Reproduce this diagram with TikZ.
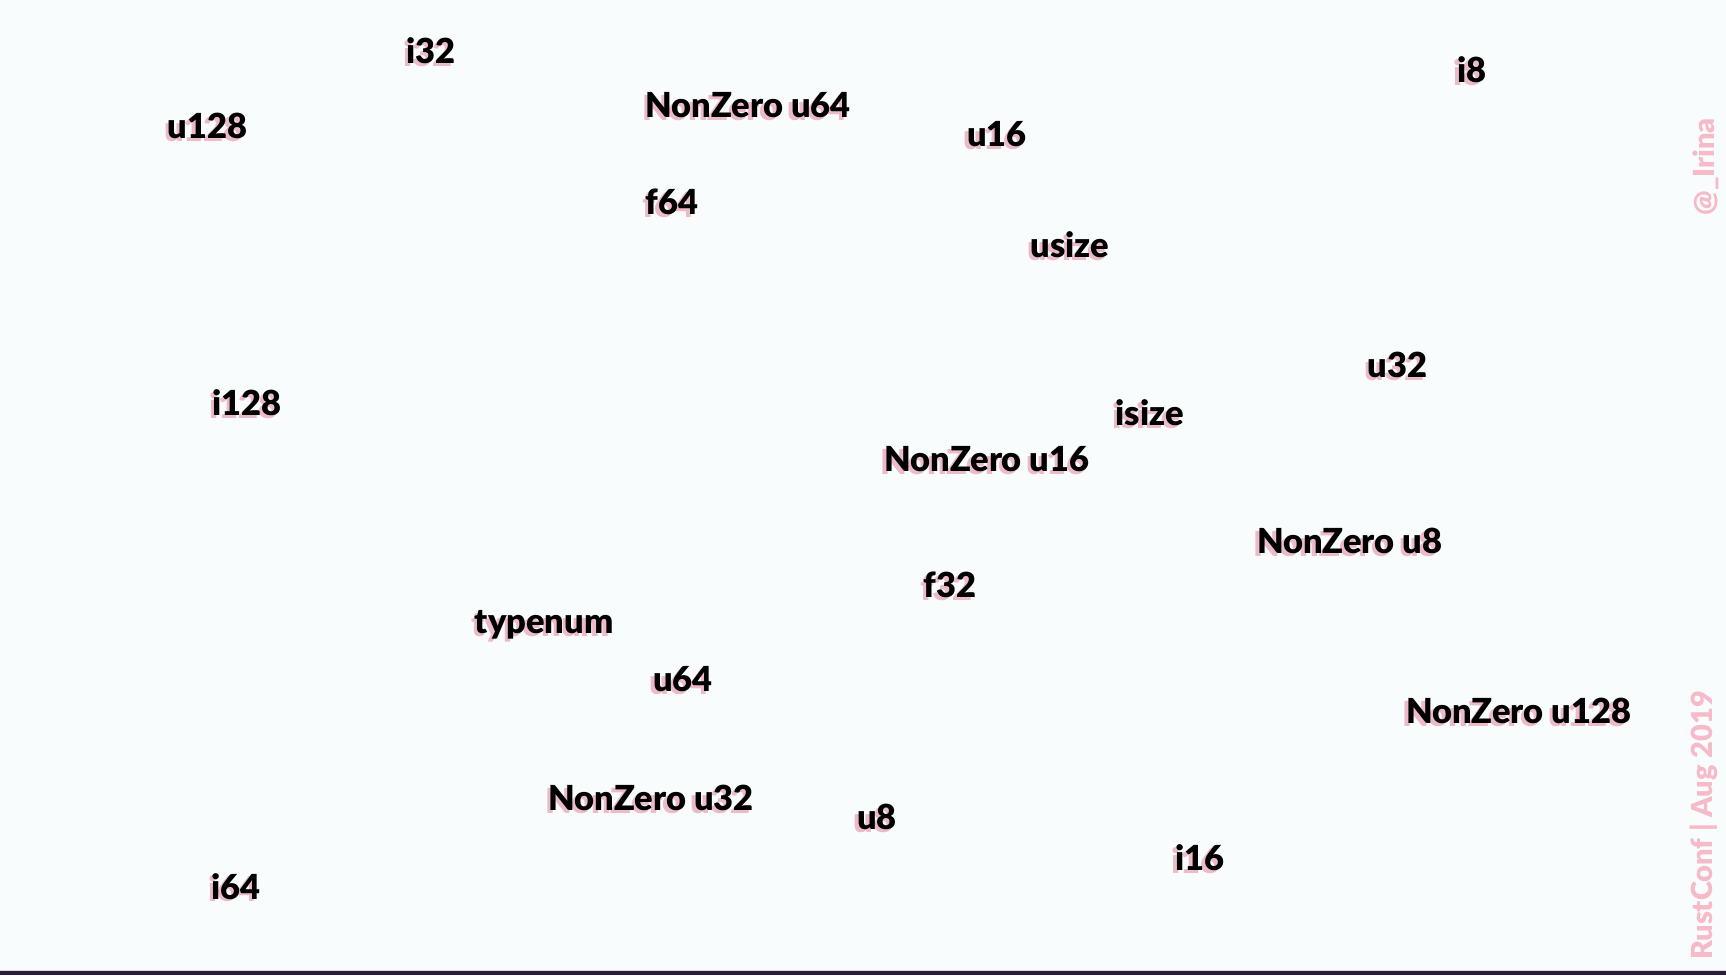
\documentclass[tikz,border=0pt]{standalone}
\usepackage{fontspec}
\setmainfont{Lato}[BoldFont={Lato Black}]
\usepackage{xcolor}
\definecolor{SlideWhite}{RGB}{249,252,253}
\definecolor{LabelPink}{RGB}{236,186,200}
\definecolor{TagPink}{RGB}{246,186,200}
\definecolor{BarPurple}{RGB}{40,30,66}
\newcommand{\shadowed}[1]{\makebox[0pt][l]{\hspace{-3.5pt}\raisebox{-2.5pt}{\color{LabelPink}#1}}#1}
\tikzset{typename/.style={anchor=base,inner sep=0pt,font=\fontsize{34.5}{34.5}\bfseries\selectfont}}

\begin{document}
\begin{tikzpicture}[x=1pt,y=-1pt]
            \fill[SlideWhite] (0,0) rectangle (1726,976);
            \fill[BarPurple] (0,972) rectangle (1726,976);
            \draw[gray!30,line width=1pt] (0,971) -- (1726,971);
            \useasboundingbox (0,0) rectangle (1726,976);
            % the types
            \node[typename] (i32) at (431,64) {\shadowed{i32}};
            \node[typename] (u128) at (207,139) {\shadowed{u128}};
            \node[typename] (nzu64) at (748,118) {\shadowed{NonZero u64}};
            \node[typename] (u16) at (997,147) {\shadowed{u16}};
            \node[typename] (i8) at (1472,83) {\shadowed{i8}};
            \node[typename] (f64) at (672,215) {\shadowed{f64}};
            \node[typename] (usize) at (1070,258) {\shadowed{usize}};
            \node[typename] (u32) at (1398,378) {\shadowed{u32}};
            \node[typename] (i128) at (247,416) {\shadowed{i128}};
            \node[typename] (isize) at (1150,426) {\shadowed{isize}};
            \node[typename] (nzu16) at (987,472) {\shadowed{NonZero u16}};
            \node[typename] (nzu8) at (1350,554) {\shadowed{NonZero u8}};
            \node[typename] (f32) at (950,598) {\shadowed{f32}};
            \node[typename] (typenum) at (544,634) {\shadowed{typenum}};
            \node[typename] (u64) at (683,692) {\shadowed{u64}};
            \node[typename] (nzu128) at (1519,724) {\shadowed{NonZero u128}};
            \node[typename] (nzu32) at (651,811) {\shadowed{NonZero u32}};
            \node[typename] (u8) at (877,830) {\shadowed{u8}};
            \node[typename] (i16) at (1200,871) {\shadowed{i16}};
            \node[typename] (i64) at (236,900) {\shadowed{i64}};
            % side tags
            \node[rotate=90,text=TagPink,font=\fontsize{29}{29}\bfseries\selectfont] (handle) at (1706,167) {@\_Irina};
            \node[rotate=90,text=TagPink,font=\fontsize{29}{29}\bfseries\selectfont] (conf) at (1704,826) {RustConf | Aug 2019};
        \end{tikzpicture}
\end{document}
